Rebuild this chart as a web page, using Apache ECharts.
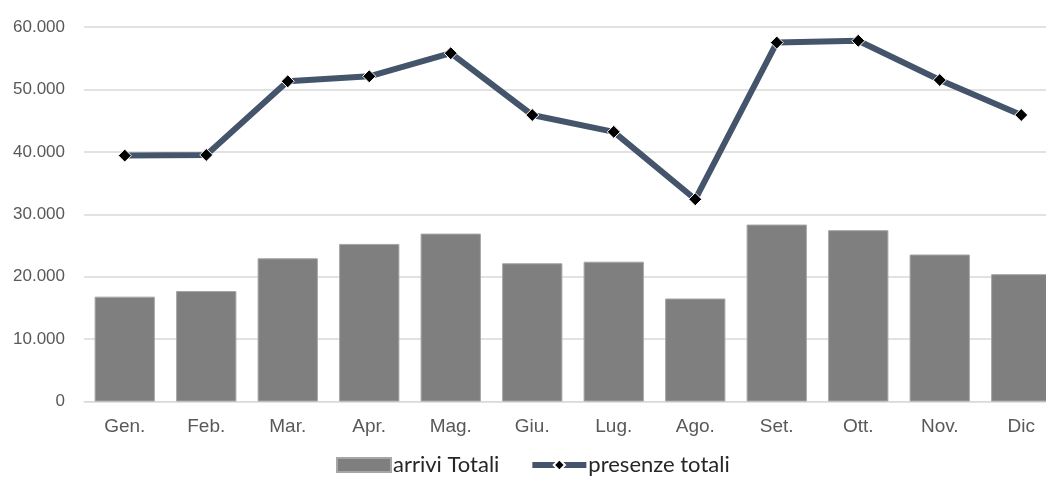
<!DOCTYPE html>
<html>
<head>
<meta charset="utf-8">
<script src="https://cdn.jsdelivr.net/npm/echarts@6/dist/echarts.min.js"></script>
<style>
  html, body { margin: 0; padding: 0; background: #fff; }
  #chart { width: 1046px; height: 481px; }
</style>
</head>
<body>
<div id="chart"></div>
<script>
const categories = ['Gen.', 'Feb.', 'Mar.', 'Apr.', 'Mag.', 'Giu.', 'Lug.', 'Ago.', 'Set.', 'Ott.', 'Nov.', 'Dic'];
const arriviTotali = [16800, 17700, 22950, 25250, 26900, 22150, 22400, 16500, 28350, 27450, 23550, 20400];
const presenzeTotali = [39400, 39500, 51300, 52100, 55800, 45900, 43200, 32400, 57500, 57800, 51500, 45900];
const seriesNames = ['arrivi Totali', 'presenze totali'];

function fmt(v) {
  return String(v).replace(/\B(?=(\d{3})+(?!\d))/g, '.');
}

const chart = echarts.init(document.getElementById('chart'), null, { renderer: 'canvas' });
chart.setOption({
  animation: false,
  backgroundColor: '#ffffff',
  grid: { left: 84, width: 978, top: 27, bottom: 79.5, containLabel: false, outerBoundsMode: 'none' },
  legend: {
    bottom: 0,
    left: 331,
    itemGap: 30,
    itemWidth: 54,
    itemHeight: 14,
    textStyle: { fontFamily: 'Lato', fontSize: 22, color: '#262626', padding: [0, 0, 0, -3] },
    data: [
      { name: seriesNames[0], icon: 'rect' },
      { name: seriesNames[1], lineStyle: { width: 6, color: '#44546a' } }
    ]
  },
  xAxis: {
    type: 'category',
    data: categories,
    axisLine: { show: true, lineStyle: { color: '#d9d9d9', width: 1 } },
    axisTick: { show: false },
    axisLabel: { color: '#595959', fontFamily: 'Liberation Sans', fontSize: 19, margin: 16 },
    splitLine: { show: false }
  },
  yAxis: {
    type: 'value',
    min: 0,
    max: 60000,
    interval: 10000,
    axisLine: { show: false },
    axisTick: { show: false },
    axisLabel: { color: '#595959', fontFamily: 'Liberation Sans', fontSize: 17, margin: 19, formatter: fmt },
    splitLine: { show: true, lineStyle: { color: '#d9d9d9', width: 1.5 } }
  },
  series: [
    {
      name: seriesNames[0],
      type: 'bar',
      data: arriviTotali,
      barCategoryGap: '26%',
      itemStyle: { color: '#7f7f7f', borderColor: '#a6a6a6', borderWidth: 1 },
      z: 2
    },
    {
      name: seriesNames[1],
      type: 'line',
      data: presenzeTotali,
      symbol: 'diamond',
      symbolSize: 13,
      lineStyle: { color: '#44546a', width: 6 },
      itemStyle: { color: '#000000', borderColor: '#ffffff', borderWidth: 1 },
      z: 3
    }
  ]
});
</script>
</body>
</html>
